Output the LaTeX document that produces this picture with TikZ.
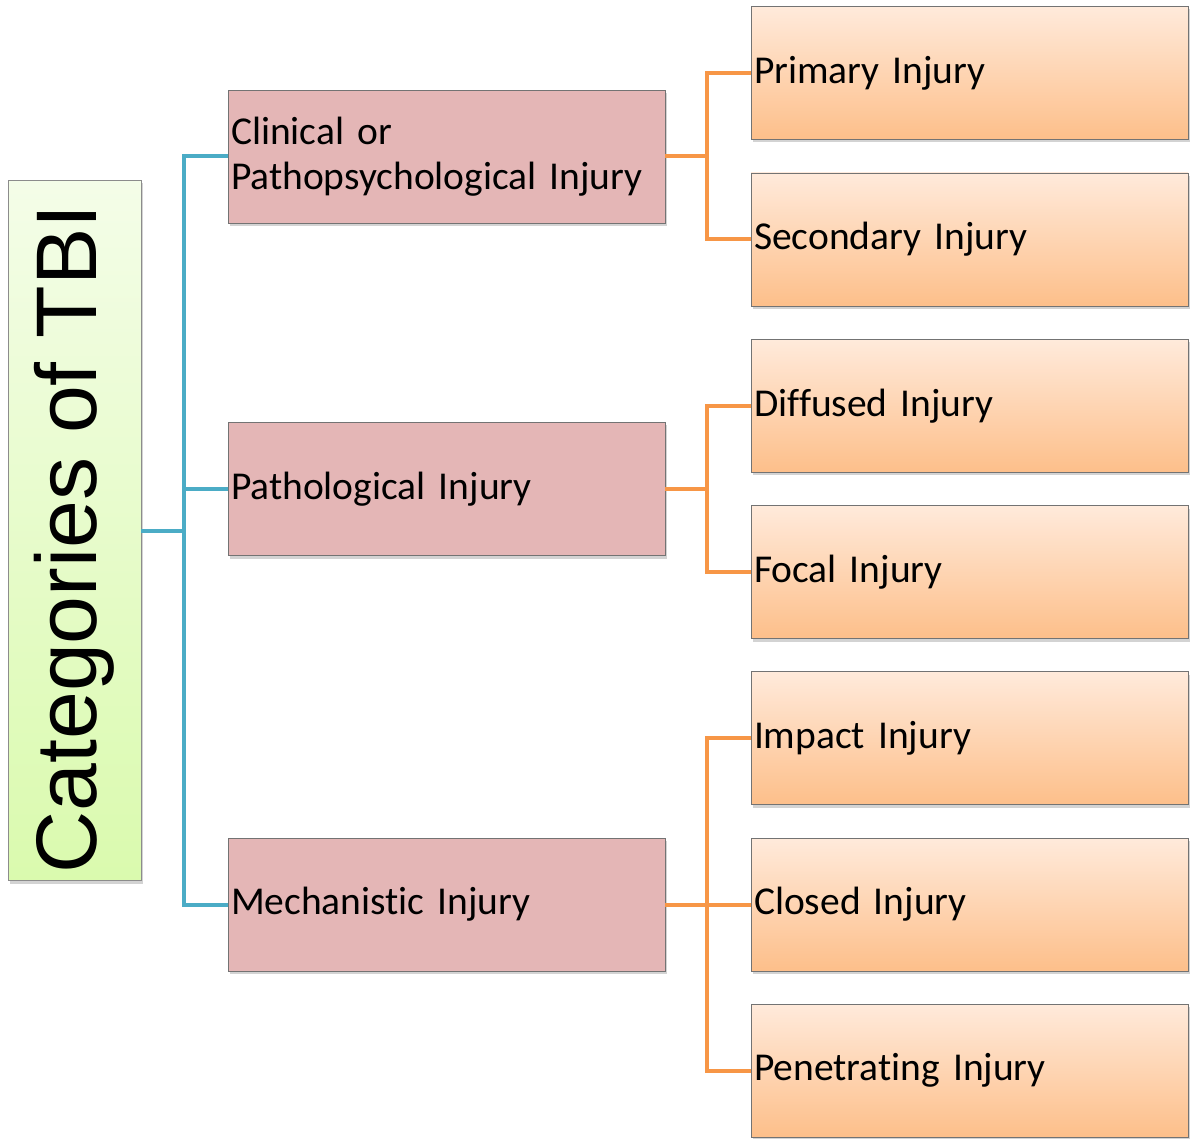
\documentclass[tikz,border=0pt]{standalone}
\usepackage{fontspec}
\setmainfont{Carlito}[Ligatures=NoCommon]
\newfontfamily\rootfont{Liberation Sans}
\usetikzlibrary{shadows}
\definecolor{lineblue}{HTML}{4BACC6}
\definecolor{lineorange}{HTML}{F79646}
\definecolor{midfill}{HTML}{E4B6B6}
\definecolor{leaftop}{HTML}{FFEADB}
\definecolor{leafbot}{HTML}{FDBF8A}
\definecolor{roottop}{HTML}{F4FDE8}
\definecolor{rootbot}{HTML}{DAFAAE}
\tikzset{
  box/.style={draw=black!55, line width=0.8pt, inner sep=3pt,
    drop shadow={shadow xshift=2pt, shadow yshift=-3pt, opacity=0.35},
    font=\fontsize{39.5}{45}\selectfont, align=left, text width=431pt},
  midbox/.style={box, fill=midfill, minimum width=437pt, minimum height=133pt},
  leafbox/.style={box, top color=leaftop, bottom color=leafbot, minimum width=437pt, minimum height=133pt},
  rootbox/.style={draw=black!45, line width=0.8pt, top color=roottop, bottom color=rootbot,
    drop shadow={shadow xshift=2pt, shadow yshift=-3pt, opacity=0.35},
    minimum width=133pt, minimum height=700pt},
  blueline/.style={lineblue, line width=4pt},
  orangeline/.style={lineorange, line width=4pt}
}
\begin{document}
\begin{tikzpicture}[x=1pt, y=-1pt]
  \useasboundingbox (0,0) rectangle (1192,1139);
  % root
  \node[rootbox] (root) at (74.5,530.5) {};
  \node[rotate=90, font=\rootfont\fontsize{86}{90}\selectfont] (roottext) at (74,539) {Categories of TBI};
  % middle level
  \node[midbox] (clin) at (446.5,156.5) {Clinical or\\Pathopsychological Injury};
  \node[midbox] (path) at (446.5,489) {Pathological Injury};
  \node[midbox] (mech) at (446.5,904.5) {Mechanistic Injury};
  % leaves
  \node[leafbox] (prim) at (969.5,73) {Primary Injury};
  \node[leafbox] (sec) at (969.5,239.5) {Secondary Injury};
  \node[leafbox] (diff) at (969.5,406) {Diffused Injury};
  \node[leafbox] (foc) at (969.5,572) {Focal Injury};
  \node[leafbox] (imp) at (969.5,738) {Impact Injury};
  \node[leafbox] (clos) at (969.5,904.5) {Closed Injury};
  \node[leafbox] (pen) at (969.5,1070.5) {Penetrating Injury};
  % connectors
  \coordinate (bj) at (184,530.5);
  \draw[blueline] (root.east) -- (bj);
  \foreach \m in {clin,path,mech}
    \draw[blueline] (bj) |- (\m.west);
  \coordinate (oj1) at (707,156.5);
  \coordinate (oj2) at (707,489);
  \coordinate (oj3) at (707,904.5);
  \draw[orangeline] (clin.east) -- (oj1);
  \draw[orangeline] (path.east) -- (oj2);
  \draw[orangeline] (mech.east) -- (oj3);
  \foreach \l in {prim,sec} \draw[orangeline] (oj1) |- (\l.west);
  \foreach \l in {diff,foc} \draw[orangeline] (oj2) |- (\l.west);
  \foreach \l in {imp,clos,pen} \draw[orangeline] (oj3) |- (\l.west);
\end{tikzpicture}
\end{document}
